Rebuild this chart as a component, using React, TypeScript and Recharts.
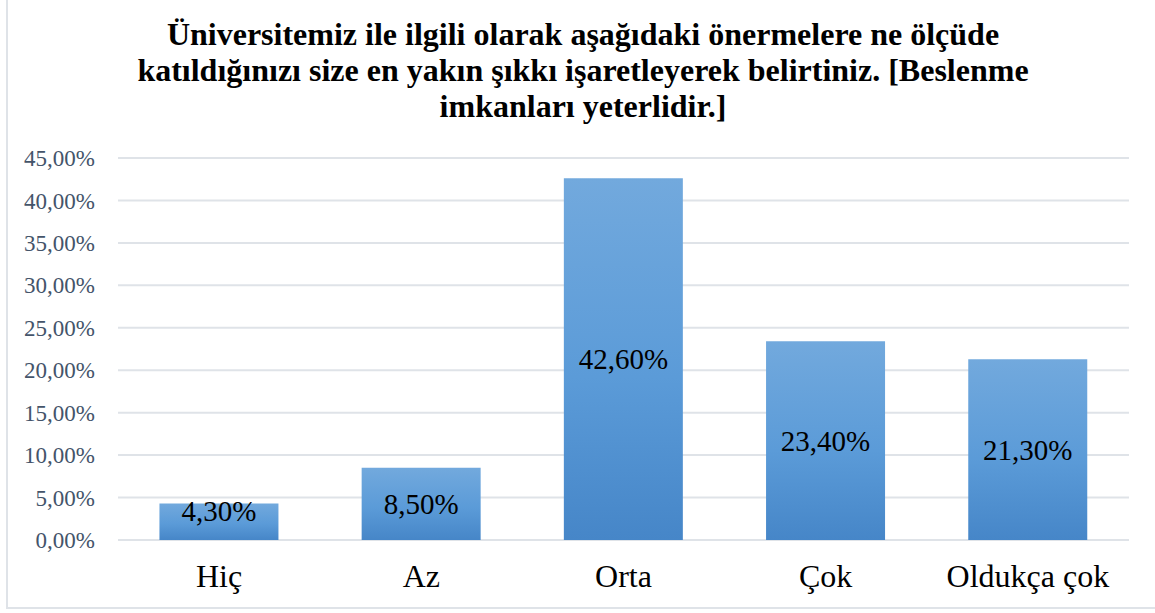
import React from 'react';
import { BarChart, Bar, XAxis, YAxis, CartesianGrid, LabelList } from 'recharts';

// Dados do gráfico
const categories = ['Hiç', 'Az', 'Orta', 'Çok', 'Oldukça çok'];
const percentages = [4.3, 8.5, 42.6, 23.4, 21.3];
const yTicks = [0, 5, 10, 15, 20, 25, 30, 35, 40, 45];
const titleLines = [
  'Üniversitemiz ile ilgili olarak aşağıdaki önermelere ne ölçüde',
  'katıldığınızı size en yakın şıkkı işaretleyerek belirtiniz. [Beslenme',
  'imkanları yeterlidir.]',
];

const data = categories.map((name, i) => ({ name, value: percentages[i] }));

const SERIF = "'Liberation Serif', 'Times New Roman', serif";

const formatPct = (v: number) => v.toFixed(2).replace('.', ',') + '%';

// Excel-style label: centred, but pushed up when the bar is too short
const BarLabel = (props: any) => {
  const { x, y, width, height, value } = props;
  const bottom = y + height;
  const cy = Math.min(y + height / 2, bottom - 29);
  return (
    <text
      x={x + width / 2}
      y={cy}
      textAnchor="middle"
      dominantBaseline="central"
      fontFamily={SERIF}
      fontSize={29}
      fill="#000"
    >
      {formatPct(value)}
    </text>
  );
};

export default function App() {
  return (
    <div style={{ position: 'absolute', left: 0, top: 0, width: 1155, height: 613, background: '#fff', overflow: 'hidden' }}>
      <div
        style={{
          position: 'absolute',
          left: 6,
          top: -2,
          width: 1170,
          height: 611,
          border: '2px solid #dfe3e8',
          boxSizing: 'border-box',
        }}
      />
      <div
        style={{
          position: 'absolute',
          left: 0,
          top: 16,
          width: 1166,
          textAlign: 'center',
          fontFamily: SERIF,
          fontWeight: 'bold',
          fontSize: 32,
          lineHeight: '36px',
          color: '#000',
        }}
      >
        {titleLines.map((l, i) => (
          <div key={i}>{l}</div>
        ))}
      </div>
      <BarChart
        width={1155}
        height={613}
        data={data}
        margin={{ top: 158, right: 26, left: 0, bottom: 43 }}
        barCategoryGap="20.5%"
        style={{ position: 'absolute', left: 0, top: 0 }}
      >
        <defs>
          <linearGradient id="barFill" x1="0" y1="0" x2="0" y2="1">
            <stop offset="0%" stopColor="#72a9dd" />
            <stop offset="55%" stopColor="#5b9bd8" />
            <stop offset="100%" stopColor="#4686c8" />
          </linearGradient>
        </defs>
        <CartesianGrid vertical={false} stroke="#dfe3e8" strokeWidth={2} />
        <XAxis
          dataKey="name"
          height={30}
          axisLine={false}
          tickLine={false}
          tickSize={0}
          tickMargin={24}
          interval={0}
          tick={{ fill: '#000', fontSize: 32, fontFamily: SERIF }}
        />
        <YAxis
          width={118}
          domain={[0, 45]}
          ticks={yTicks}
          tickFormatter={formatPct}
          axisLine={false}
          tickLine={false}
          tickSize={0}
          tickMargin={23}
          tick={{ fill: '#44546a', fontSize: 23, fontFamily: SERIF }}
        />
        <Bar dataKey="value" fill="url(#barFill)" isAnimationActive={false}>
          <LabelList dataKey="value" content={<BarLabel />} />
        </Bar>
      </BarChart>
    </div>
  );
}
